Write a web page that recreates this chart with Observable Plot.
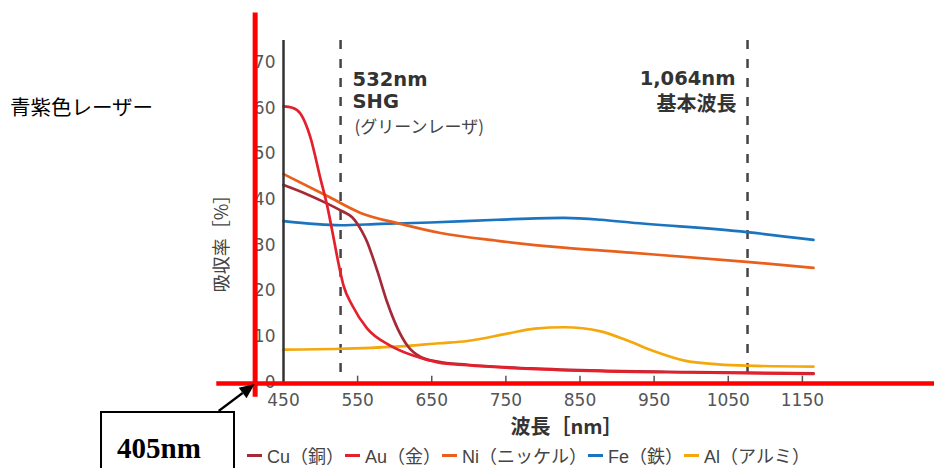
<!DOCTYPE html>
<html>
<head>
<meta charset="utf-8">
<script src="https://cdn.jsdelivr.net/npm/d3@7"></script>
<script src="https://cdn.jsdelivr.net/npm/@observablehq/plot@0.6"></script>
<style>
  body { margin: 0; background: #fff; }
  #wrap { position: relative; width: 934px; height: 468px; overflow: hidden; }
  #wrap svg { display: block; }
  #note { position: absolute; left: 10px; top: 96px; font: 20.5px/1 "Noto Sans CJK JP", sans-serif; color: #000; white-space: nowrap; }
  #box { position: absolute; left: 100px; top: 411px; width: 131px; height: 80px; border: 2px solid #000; background: #fff; }
  #box span { position: absolute; left: 15px; top: 21px; font: bold 29px/1 "Liberation Serif", serif; color: #000; }
  #legend { display: flex; align-items: center; height: 26px; padding-left: 247px; font: 18px "Liberation Sans", "Noto Sans CJK JP", sans-serif; color: #444; white-space: nowrap; }
  #legend .item { display: inline-flex; align-items: center; margin-right: 1px; }
  #legend .sw { display: inline-block; width: 15px; height: 3px; margin-right: 5px; }
</style>
</head>
<body>
<div id="wrap"></div>
<script>
// ---- data ----
const seriesNames  = ["Cu（銅）", "Au（金）", "Ni（ニッケル）", "Fe（鉄）", "Al（アルミ）"];
const seriesColors = ["#a52a38", "#e3202b", "#e8601c", "#1b74bf", "#f4a80c"];

const cuNm  = [450, 480, 507, 530, 543, 556, 563, 570, 577, 590, 604, 617, 635, 658, 698, 783, 878, 1000, 1165];
const cuAbs = [43.4, 41.5, 39.5, 37.6, 36.3, 33.2, 30.9, 27.8, 24.4, 17.7, 12.0, 8.3, 5.8, 4.8, 4.1, 3.3, 2.8, 2.5, 2.2];

const auNm  = [450, 462, 473, 486, 500, 509, 517, 524, 531, 543, 563, 594, 625, 658, 698, 783, 878, 1000, 1165];
const auAbs = [60.6, 60.3, 59.0, 54.0, 44.7, 38.8, 32.3, 26.4, 21.4, 17.0, 12.0, 8.3, 6.1, 4.6, 4.0, 3.2, 2.7, 2.4, 2.1];

const niNm  = [450, 509, 554, 608, 662, 739, 828, 918, 1075, 1165];
const niAbs = [45.8, 41.0, 37.3, 34.9, 32.9, 31.2, 29.7, 28.6, 26.6, 25.3];

const feNm  = [450, 527, 581, 648, 739, 828, 878, 918, 1075, 1165];
const feAbs = [35.5, 34.6, 34.9, 35.2, 35.8, 36.2, 35.8, 35.2, 33.1, 31.4];

const alNm  = [450, 527, 608, 660, 698, 752, 789, 829, 878, 914, 951, 991, 1036, 1075, 1165];
const alAbs = [7.4, 7.6, 8.1, 8.8, 9.3, 10.9, 12.0, 12.3, 11.4, 9.4, 7.0, 5.0, 4.2, 3.9, 3.7];

const xTicks = [450, 550, 650, 750, 850, 950, 1050, 1150];
const yTicks = [0, 10, 20, 30, 40, 50, 60, 70];

// laser guide lines (positions as drawn in the picture) and their labels
const guideNm = [527, 1076];
const shgLabels = ["532nm", "SHG", "(グリーンレーザ)"];
const fundLabels = ["1,064nm", "基本波長"];

const laserNm = 405;
const laserLabel = "405nm";
const laserName = "青紫色レーザー";

const xLabel = "波長［nm］";
const yLabel = "吸収率［%］";

// ---- build table ----
const nmArrays = [cuNm, auNm, niNm, feNm, alNm];
const absArrays = [cuAbs, auAbs, niAbs, feAbs, alAbs];
const drawOrder = [4, 3, 2, 0, 1];
const rows = drawOrder.flatMap(k => nmArrays[k].map((nm, i) => ({name: seriesNames[k], nm, abs: absArrays[k][i]})));

const W = 934, H = 442;
const chart = Plot.plot({
  width: W, height: H,
  marginLeft: 283, marginRight: 121, marginTop: 40, marginBottom: 59,
  style: {fontFamily: "DejaVu Sans, sans-serif", fontSize: "17px", color: "#555", background: "#fff", overflow: "visible"},
  x: {domain: [450, 1165], axis: null},
  y: {domain: [0, 75], axis: null},
  color: {domain: seriesNames, range: seriesColors},
  marks: [
    Plot.ruleX(guideNm, {x: d => d, stroke: "#444", strokeWidth: 2.5, strokeDasharray: "9,10"}),
    Plot.ruleX(xTicks.slice(1), {x: d => d, y1: 0, y2: 1.6, stroke: "#555", strokeWidth: 1.5}),
    Plot.axisX(xTicks, {tickSize: 0, tickPadding: 10, fontSize: 17, fill: "#555", tickFormat: d => String(d), label: null}),
    Plot.axisY(yTicks, {tickSize: 0, tickPadding: 8, fontSize: 17, fill: "#555", tickFormat: d => String(d), label: null, dy: -1}),
    Plot.line(rows, {x: "nm", y: "abs", z: "name", stroke: "name", strokeWidth: 2.7, curve: "monotone-x"}),
    Plot.ruleX([450], {stroke: "#333", strokeWidth: 2.5}),
    // guide annotations
    Plot.text([guideNm[0]], {x: d => d, frameAnchor: "top", text: () => shgLabels[0], dx: 12, dy: 39, textAnchor: "start", lineAnchor: "middle", fontSize: 19.5, fontWeight: "bold", fill: "#333"}),
    Plot.text([guideNm[0]], {x: d => d, frameAnchor: "top", text: () => shgLabels[1], dx: 12, dy: 61, textAnchor: "start", lineAnchor: "middle", fontSize: 19.5, fontWeight: "bold", fill: "#333"}),
    Plot.text([guideNm[0]], {x: d => d, frameAnchor: "top", text: () => shgLabels[2], dx: 14, dy: 87, textAnchor: "start", lineAnchor: "middle", fontSize: 17, fontFamily: "Noto Sans CJK JP", fill: "#444"}),
    Plot.text([guideNm[1]], {x: d => d, frameAnchor: "top", text: () => fundLabels[0], dx: -12, dy: 38, textAnchor: "end", lineAnchor: "middle", fontSize: 19.5, fontWeight: "bold", fill: "#333"}),
    Plot.text([guideNm[1]], {x: d => d, frameAnchor: "top", text: () => fundLabels[1], dx: -11, dy: 64, textAnchor: "end", lineAnchor: "middle", fontSize: 20, fontWeight: "bold", fontFamily: "Noto Sans CJK JP", fill: "#333", letterSpacing: 2.5}),
    // axis titles
    Plot.text([xLabel], {frameAnchor: "bottom", text: d => d, dx: 18, dy: 44, textAnchor: "middle", lineAnchor: "middle", fontSize: 20, fontWeight: "bold", fontFamily: "Noto Sans CJK JP", fill: "#333"}),
    Plot.text([yLabel], {frameAnchor: "left", text: d => d, dx: -61, dy: 27, textAnchor: "middle", rotate: -90, lineAnchor: "middle", fontSize: 18, fontFamily: "Noto Sans CJK JP", fill: "#444"}),
    // red overlay lines (405 nm laser & zero line)
    Plot.ruleY([0], {x1: 360, x2: 1340, stroke: "#ff0000", strokeWidth: 4.5}),
    Plot.ruleX([laserNm], {y1: -3, y2: 81, dx: 5, stroke: "#ff0000", strokeWidth: 5})
  ]
});

const wrap = document.getElementById("wrap");
wrap.appendChild(chart);

// arrow pointing at the laser / zero intersection
const sx = chart.scale("x"), sy = chart.scale("y");
const tip = [sx.apply(laserNm) + 5, sy.apply(0) + 1];
const tail = [tip[0] - 36, tip[1] + 27];
const len = Math.hypot(tip[0] - tail[0], tip[1] - tail[1]);
const u = [(tip[0] - tail[0]) / len, (tip[1] - tail[1]) / len];
const n = [-u[1], u[0]];
const hl = 15, hw = 6.5;
const base = [tip[0] - hl * u[0], tip[1] - hl * u[1]];
const svg = d3.select(chart);
svg.append("line").attr("x1", tail[0]).attr("y1", tail[1]).attr("x2", base[0]).attr("y2", base[1])
  .attr("stroke", "#000").attr("stroke-width", 2.2);
svg.append("path")
  .attr("d", `M${tip}L${base[0] + hw * n[0]},${base[1] + hw * n[1]}L${base[0] - hw * n[0]},${base[1] - hw * n[1]}Z`)
  .attr("fill", "#000");

// legend below the chart
const legend = document.createElement("div");
legend.id = "legend";
seriesNames.forEach((name, i) => {
  const item = document.createElement("span");
  item.className = "item";
  const sw = document.createElement("span");
  sw.className = "sw";
  sw.style.background = seriesColors[i];
  item.appendChild(sw);
  item.appendChild(document.createTextNode(name));
  legend.appendChild(item);
});
wrap.appendChild(legend);

// side note and callout box
const note = document.createElement("div");
note.id = "note";
note.textContent = laserName;
wrap.appendChild(note);

const box = document.createElement("div");
box.id = "box";
const bs = document.createElement("span");
bs.textContent = laserLabel;
box.appendChild(bs);
wrap.appendChild(box);
</script>
</body>
</html>
